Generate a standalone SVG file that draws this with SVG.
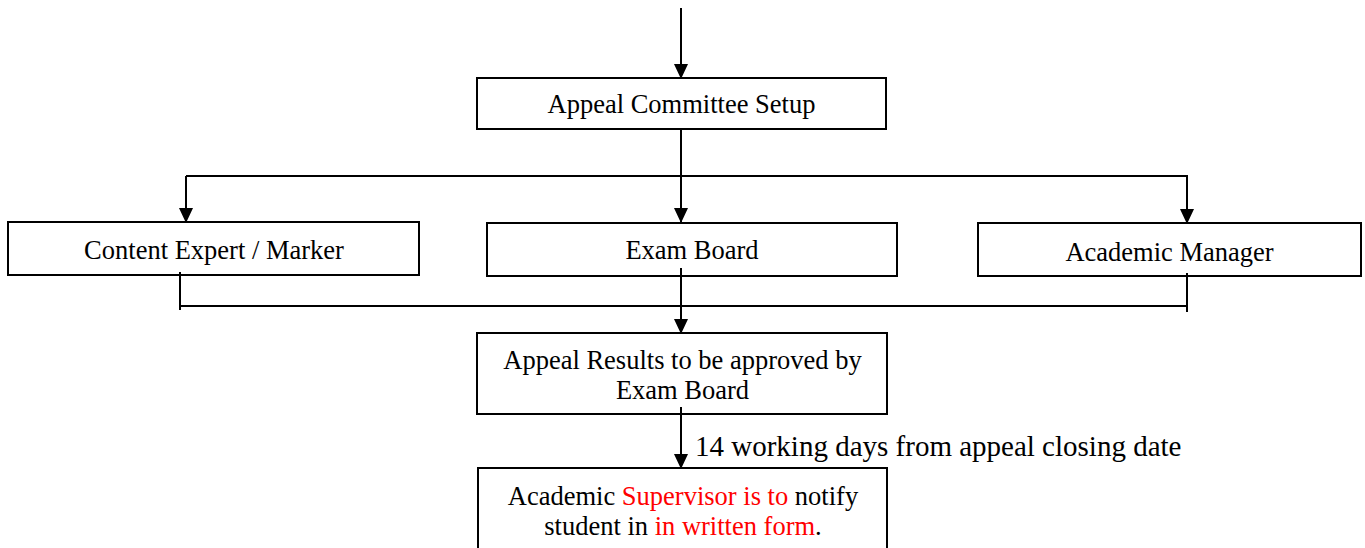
<svg xmlns="http://www.w3.org/2000/svg" width="1365" height="548" viewBox="0 0 1365 548">
<defs>
<marker id="arr" markerUnits="userSpaceOnUse" markerWidth="15" markerHeight="14" refX="15" refY="7" orient="auto" viewBox="0 0 15 14">
<path d="M0,0 L15,7 L0,14 Z" fill="#000"/>
</marker>
<style>
.box{fill:#fff;stroke:#000;stroke-width:2}
.t{font-family:"Liberation Serif","Times New Roman",serif;font-size:26.5px;fill:#000;text-anchor:middle}
.r{fill:#ff0000}
.c{fill:none;stroke:#000;stroke-width:2}
.lbl{font-family:"Liberation Serif","Times New Roman",serif;font-size:29px;fill:#000}
</style>
</defs>
<rect width="1365" height="548" fill="#fff"/>
<g id="n1"><rect class="box" x="477" y="78" width="409" height="51"/><text class="t" x="681.5" y="113">Appeal Committee Setup</text></g>
<g id="n2"><rect class="box" x="8" y="222" width="411" height="53"/><text class="t" x="214" y="259">Content Expert / Marker</text></g>
<g id="n3"><rect class="box" x="487" y="223" width="410" height="53"/><text class="t" x="692" y="259">Exam Board</text></g>
<g id="n4"><rect class="box" x="978" y="223" width="383" height="53"/><text class="t" x="1169.5" y="261">Academic Manager</text></g>
<g id="n5"><rect class="box" x="477" y="333" width="410" height="81"/><text class="t" x="682.5" y="369">Appeal Results to be approved by</text><text class="t" x="682.5" y="399">Exam Board</text></g>
<g id="n6"><rect class="box" x="478" y="468" width="409" height="90"/><text class="t" x="683" y="505">Academic <tspan class="r">Supervisor is to</tspan> notify</text><text class="t" x="683" y="535">student in <tspan class="r">in written form</tspan>.</text></g>
<g id="connectors">
<line class="c" x1="681" y1="8" x2="681" y2="79" marker-end="url(#arr)"/>
<line class="c" x1="681" y1="129" x2="681" y2="223" marker-end="url(#arr)"/>
<line class="c" x1="186" y1="176" x2="1188" y2="176"/>
<line class="c" x1="186" y1="176" x2="186" y2="223" marker-end="url(#arr)"/>
<line class="c" x1="1187" y1="176" x2="1187" y2="224" marker-end="url(#arr)"/>
<line class="c" x1="180" y1="272" x2="180" y2="310"/>
<line class="c" x1="1187" y1="273" x2="1187" y2="312"/>
<line class="c" x1="180" y1="306" x2="1187" y2="306"/>
<line class="c" x1="681" y1="268" x2="681" y2="334" marker-end="url(#arr)"/>
<line class="c" x1="681" y1="407" x2="681" y2="469" marker-end="url(#arr)"/>
<text class="lbl" x="695" y="456">14 working days from appeal closing date</text>
</g>
</svg>
